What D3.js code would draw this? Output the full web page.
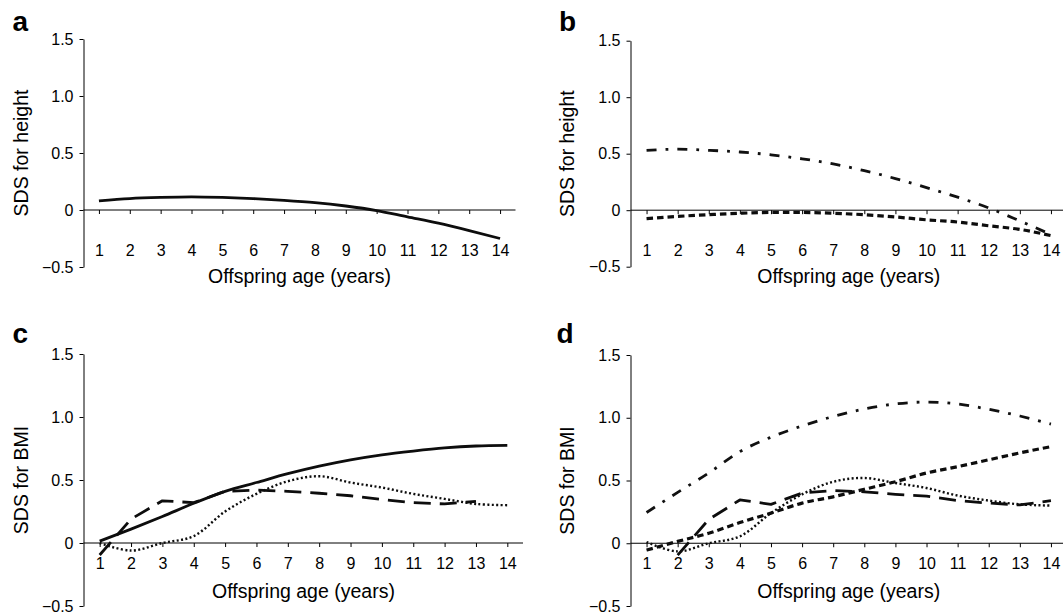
<!DOCTYPE html>
<html>
<head>
<meta charset="utf-8">
<script src="https://cdn.jsdelivr.net/npm/d3@7"></script>
<style>
  body { margin: 0; background: #fff; }
  svg { display: block; font-family: "Liberation Sans", Arial, Helvetica, sans-serif; }
  .domain, .tick line { stroke: #000; stroke-width: 1; }
  .series { fill: none; stroke-linejoin: round; }
  .axis-title { font-size: 19.5px; fill: #000; }
  .letter { font-size: 28px; font-weight: bold; fill: #000; }
  text.tick-label { font-size: 16px; fill: #000; }
</style>
</head>
<body>
<svg id="chart" width="1063" height="615"></svg>
<script>
// Offspring age (years) on the x axis
const ages = [1, 2, 3, 4, 5, 6, 7, 8, 9, 10, 11, 12, 13, 14];
const cLongAges = [1, 2, 3, 4, 5, 6, 7, 8, 9, 10, 11, 12, 13];
const dLongAges = [2, 3, 4, 5, 6, 7, 8, 9, 10, 11, 12, 13, 14];
const yTicks = [-0.5, 0, 0.5, 1.0, 1.5];

// panel a - SDS for height
const aSolid = [0.08, 0.10, 0.11, 0.115, 0.11, 0.10, 0.085, 0.065, 0.035, -0.005, -0.06, -0.115, -0.18, -0.25];

// panel b - SDS for height
const bDashDot = [0.53, 0.54, 0.53, 0.515, 0.49, 0.455, 0.41, 0.35, 0.28, 0.20, 0.115, 0.02, -0.095, -0.215];
const bShortDash = [-0.075, -0.055, -0.04, -0.027, -0.02, -0.02, -0.027, -0.04, -0.06, -0.085, -0.105, -0.138, -0.17, -0.225];

// panel c - SDS for BMI
const cSolid = [0.015, 0.11, 0.21, 0.315, 0.41, 0.48, 0.55, 0.61, 0.66, 0.70, 0.73, 0.755, 0.77, 0.775];
const cLongDash = [-0.095, 0.19, 0.335, 0.32, 0.41, 0.42, 0.41, 0.395, 0.375, 0.345, 0.32, 0.31, 0.33];
const cDotted = [0.0, -0.06, 0.0, 0.055, 0.25, 0.39, 0.49, 0.53, 0.48, 0.44, 0.39, 0.35, 0.31, 0.30];

// panel d - SDS for BMI
const dDashDot = [0.245, 0.405, 0.56, 0.73, 0.845, 0.935, 1.01, 1.07, 1.11, 1.125, 1.11, 1.067, 1.014, 0.95];
const dShortDash = [-0.055, 0.015, 0.08, 0.165, 0.24, 0.32, 0.37, 0.43, 0.49, 0.56, 0.61, 0.665, 0.72, 0.77];
const dLongDash = [-0.095, 0.19, 0.345, 0.31, 0.40, 0.42, 0.41, 0.39, 0.375, 0.34, 0.32, 0.305, 0.34];
const dDotted = [0.01, -0.065, 0.0, 0.055, 0.24, 0.39, 0.49, 0.52, 0.48, 0.44, 0.38, 0.34, 0.31, 0.30];

// line looks
const styles = {
    solid: { dash: null, width: 2.8, color: '#0d0d0d', curve: d3.curveMonotoneX },
    dashDot: { dash: '10,9,2.8,9', width: 2.8, color: '#111', curve: d3.curveMonotoneX },
    shortDash: { dash: '6.5,4', width: 3.2, color: '#0d0d0d', curve: d3.curveMonotoneX },
    longDash: { dash: '17,9', width: 2.8, color: '#0d0d0d', curve: d3.curveLinear },
    dotted: { dash: '2,2.4', width: 2.4, color: '#0d0d0d', curve: d3.curveCatmullRom }
};

// where each panel sits on the page
const panels = [
    { letter: 'a', title: 'SDS for height', axisX: 83.5, xRange: [83.5, 515.5], yRange: [267, 39],
      tickBase: 256, xTitleY: 283, yTitleX: 27.7, letterPos: [12.5, 30.7],
      series: [[ages, aSolid, 'solid']] },
    { letter: 'b', title: 'SDS for height', axisX: 630.5, xRange: [631, 1066.5], yRange: [266.7, 40.7],
      tickBase: 256, xTitleY: 283, yTitleX: 574, letterPos: [559, 30.7],
      series: [[ages, bDashDot, 'dashDot'], [ages, bShortDash, 'shortDash']] },
    { letter: 'c', title: 'SDS for BMI', axisX: 83.5, xRange: [84, 523], yRange: [606, 354],
      tickBase: 569, xTitleY: 597.7, yTitleX: 27.7, letterPos: [12.5, 343],
      series: [[cLongAges, cLongDash, 'longDash'], [ages, cDotted, 'dotted'], [ages, cSolid, 'solid']] },
    { letter: 'd', title: 'SDS for BMI', axisX: 630.5, xRange: [631, 1066.5], yRange: [606, 355],
      tickBase: 569, xTitleY: 598, yTitleX: 574, letterPos: [556.5, 343],
      series: [[ages, dDashDot, 'dashDot'], [ages, dShortDash, 'shortDash'],
               [dLongAges, dLongDash, 'longDash'], [ages, dDotted, 'dotted']] }
];

const svg = d3.select('#chart');
const fmt = v => (v === 0 ? '0' : (v < 0 ? '\u2212' : '') + Math.abs(v).toFixed(1));

panels.forEach(p => {
    let g = svg.append('g').attr('class', 'panel-' + p.letter);
    let x = d3.scaleLinear().domain([0.5, 14.5]).range(p.xRange);
    let y = d3.scaleLinear().domain([-0.5, 1.5]).range(p.yRange);
    let y0 = y(0);

    // y axis
    let ya = g.append('g')
        .attr('transform', 'translate(' + p.axisX + ',0)')
        .call(d3.axisLeft(y).tickValues(yTicks).tickFormat(fmt).tickSize(4).tickSizeOuter(0).tickPadding(6));

    // x axis along the zero line, labels dropped lower
    let xa = g.append('g')
        .attr('transform', 'translate(0,' + y0 + ')')
        .call(d3.axisBottom(x).tickValues(ages).tickSize(4).tickSizeOuter(0));
    xa.select('.domain').attr('d', 'M' + p.axisX + ',0H' + p.xRange[1]);
    xa.selectAll('.tick text')
        .attr('y', p.tickBase - y0)
        .attr('dy', null);

    // drop d3's default 10px sans-serif so the labels take the page font
    ya.attr('font-size', null).attr('font-family', null);
    xa.attr('font-size', null).attr('font-family', null);
    g.selectAll('.tick text')
        .attr('class', 'tick-label')
        .attr('font-size', 16);

    // titles
    g.append('text')
        .attr('class', 'axis-title')
        .attr('x', (p.xRange[0] + p.xRange[1]) / 2)
        .attr('y', p.xTitleY)
        .attr('text-anchor', 'middle')
        .text('Offspring age (years)');
    g.append('text')
        .attr('class', 'axis-title')
        .attr('transform', 'translate(' + p.yTitleX + ',' + (p.yRange[0] + p.yRange[1]) / 2 + ') rotate(-90)')
        .attr('text-anchor', 'middle')
        .text(p.title);
    g.append('text')
        .attr('class', 'letter')
        .attr('x', p.letterPos[0])
        .attr('y', p.letterPos[1])
        .text(p.letter);

    // curves
    p.series.forEach(s => {
        let st = styles[s[2]];
        let line = d3.line()
            .x(d => x(d[0]))
            .y(d => y(d[1]))
            .curve(st.curve);
        g.append('path')
            .datum(d3.zip(s[0], s[1]))
            .attr('class', 'series ' + s[2])
            .attr('d', line)
            .attr('stroke', st.color)
            .attr('stroke-width', st.width)
            .attr('stroke-dasharray', st.dash);
    });
});
</script>
</body>
</html>
